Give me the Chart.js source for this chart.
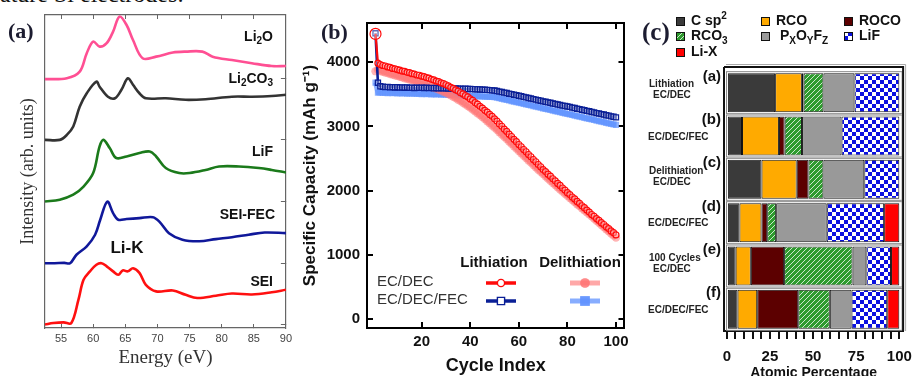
<!DOCTYPE html>
<html><head><meta charset="utf-8">
<script src="https://cdn.jsdelivr.net/npm/chart.js@4.4.1/dist/chart.umd.min.js"></script>
<style>
html,body{margin:0;padding:0;background:#fff;width:921px;height:376px;overflow:hidden;position:relative;font-family:"Liberation Sans",Arial,sans-serif;}
canvas{position:absolute;top:0;}
#ca{left:0;} #cb{left:300px;} #cc{left:640px;}
.pl{position:absolute;font-family:"Liberation Serif","Times New Roman",serif;font-weight:bold;color:#1c1c30;white-space:nowrap;}
#cut{position:absolute;left:0;top:-18px;font-family:"Liberation Serif",serif;font-size:24px;line-height:24px;white-space:nowrap;color:#111;}
</style></head><body>
<div id="cut">ature Si electrodes:</div>
<canvas id="ca" width="300" height="376"></canvas>
<canvas id="cb" width="340" height="376"></canvas>
<canvas id="cc" width="281" height="376"></canvas>
<div class="pl" style="left:8px;top:18px;font-size:22px;">(a)</div>
<div class="pl" style="left:321px;top:19px;font-size:22px;">(b)</div>
<div class="pl" style="left:642px;top:18px;font-size:25px;">(c)</div>
<script>
// ---------------- Panel (a): Li-K edge spectra ----------------
const spectraNames = ['Li_2O', 'Li_2CO_3', 'LiF', 'SEI-FEC', 'SEI'];
const li2oEnergy = [52.5,55.9,57.9,59,60,61,62.1,63.1,64.1,65.2,66.2,67.7,69.8,72.4,74.4,77,78.6,81.6,84.7,87.8,90];
const li2oIntensity = [7.95,7.98,8.19,8.78,9.15,8.99,9.10,9.47,9.95,9.68,9.20,8.62,8.67,8.80,8.83,8.83,8.67,8.56,8.46,8.37,8.37];
const li2co3Energy = [52.5,54.8,55.9,56.9,57.9,59,60.5,61,62.3,63.4,64.4,65.4,66.2,67.2,68.2,71.3,74.4,77.5,81.6,84.7,87.8,90];
const li2co3Intensity = [6.01,6.01,6.17,6.44,7.07,7.50,7.87,7.71,7.39,7.34,7.61,7.98,7.77,7.50,7.34,7.34,7.29,7.31,7.39,7.39,7.41,7.45];
const lifEnergy = [52.5,54.8,56.9,58.5,60,61,61.6,62.6,63.6,65.2,67.2,68.8,69.8,71.3,73.4,75,77.5,79.6,82.7,85.8,87.8,90];
const lifIntensity = [4.04,4.10,4.26,4.52,4.95,5.80,6.01,5.74,5.43,5.48,5.59,5.64,5.48,5.11,4.95,4.95,5.05,5.16,5.16,5.11,5.05,4.97];
const seiFecEnergy = [52.5,54,55.5,56.4,57.4,59,60.3,61.1,62.2,63.1,63.9,65.2,67.2,69.3,70.3,71.8,73.9,76.5,79.1,81.6,84.2,86.7,90];
const seiFecIntensity = [2.07,2.07,2.08,2.07,2.34,2.61,2.98,3.46,4.04,3.67,3.46,3.48,3.51,3.54,3.40,3.03,2.82,2.77,2.84,2.90,2.98,3.05,3.03];
const seiEnergy = [52.5,53.8,55.4,56.6,57.7,58.5,59.5,60.5,61.3,62.1,63.1,63.9,64.6,65.4,66.2,67.2,68.2,69.8,72.4,74.4,76.2,79.1,81.6,84.7,87.8,90];
const seiIntensity = [0.11,0.16,0.18,0.16,0.9,1.54,1.81,2.02,2.07,1.97,1.81,1.70,1.84,1.81,1.91,1.76,1.38,1.17,1.20,1.06,0.96,1.03,1.10,1.07,1.14,1.22];
const energyTicks = [55,60,65,70,75,80,85,90];
const baselineTicks = [0.11,2.07,4.04,6.01,7.98];
const edgeLabel = 'Li-K';

// ---------------- Panel (b): cycling ----------------
const cycleCount = 100;
const capTicks = [0,1000,2000,3000,4000];
const cycleTicks = [20,40,60,80,100];
const bSeriesNames = ['EC/DEC Lithiation','EC/DEC/FEC Lithiation','EC/DEC Delithiation','EC/DEC/FEC Delithiation'];
const bLegendCols = ['Lithiation','Delithiation'];
const bLegendRows = ['EC/DEC','EC/DEC/FEC'];
const ecLith = [4440,3985,3962,3948,3940,3926,3918,3903,3897,3884,
3876,3861,3857,3842,3836,3821,3815,3800,3796,3782,
3774,3758,3750,3733,3724,3706,3696,3678,3667,3648,
3632,3608,3592,3568,3550,3524,3505,3478,3458,3428,
3404,3371,3346,3312,3285,3250,3222,3186,3157,3118,
3082,3038,3002,2958,2922,2878,2842,2798,2762,2718,
2683,2640,2605,2562,2527,2484,2449,2406,2371,2328,
2296,2256,2224,2184,2152,2112,2080,2040,2008,1968,
1938,1900,1870,1832,1802,1764,1734,1696,1666,1628,
1600,1564,1536,1500,1472,1436,1408,1372,1344,1310];
const ecDelith = [3860,3880,3862,3850,3838,3830,3815,3808,3794,3786,
3772,3764,3750,3742,3728,3720,3705,3697,3682,3673,
3660,3648,3632,3620,3603,3590,3572,3558,3538,3522,
3502,3484,3460,3440,3416,3394,3368,3345,3318,3292,
3264,3236,3205,3176,3144,3114,3080,3050,3014,2982,
2946,2910,2874,2838,2802,2764,2728,2690,2654,2616,
2580,2542,2508,2470,2436,2398,2364,2326,2292,2256,
2222,2186,2154,2118,2086,2050,2018,1984,1952,1918,
1886,1852,1822,1788,1758,1724,1694,1662,1632,1600,
1566,1530,1500,1464,1434,1398,1368,1332,1302,1268];
const fecLith = [4450,3680,3625,3618,3612,3615,3608,3612,3606,3610,
3604,3608,3602,3606,3600,3604,3598,3602,3600,3604,
3598,3602,3596,3600,3594,3598,3592,3596,3592,3594,
3590,3592,3588,3590,3586,3588,3584,3586,3582,3584,
3580,3579,3577,3575,3573,3570,3568,3565,3561,3558,
3551,3541,3535,3525,3519,3509,3503,3493,3486,3476,
3469,3459,3452,3441,3435,3424,3417,3407,3400,3390,
3383,3373,3367,3356,3350,3340,3334,3324,3318,3310,
3303,3292,3286,3275,3269,3258,3252,3241,3235,3225,
3218,3207,3201,3190,3184,3173,3167,3156,3150,3140];
const fecDelith = [3680,3525,3528,3522,3526,3518,3524,3516,3520,3514,
3518,3512,3516,3510,3514,3508,3512,3506,3510,3504,
3508,3502,3506,3500,3504,3498,3502,3496,3500,3494,
3496,3490,3492,3486,3488,3482,3484,3478,3478,3474,
3474,3470,3470,3466,3466,3462,3462,3458,3458,3455,
3446,3438,3429,3420,3412,3403,3394,3386,3377,3368,
3360,3351,3342,3334,3325,3316,3308,3299,3290,3282,
3273,3264,3256,3247,3238,3230,3221,3212,3204,3195,
3186,3178,3169,3160,3152,3143,3134,3126,3117,3108,
3100,3091,3082,3074,3065,3056,3048,3039,3030,3022];

// ---------------- Panel (c): XPS composition ----------------
const rowLetters = ['(a)','(b)','(c)','(d)','(e)','(f)'];
const rowNotes = [['Lithiation','EC/DEC'],['EC/DEC/FEC'],['Delithiation','EC/DEC'],['EC/DEC/FEC'],['100 Cycles','EC/DEC'],['EC/DEC/FEC']];
const speciesNames = ['C sp^2','RCO','ROCO','RCO_3',' P_XO_YF_Z','LiF','Li-X'];
const cSp2 = [28, 8.8, 20.1, 7.3, 5.1, 6.2];
const rco = [15.5, 21.4, 20.4, 12.8, 8.8, 11.4];
const roco = [1, 3.3, 6.8, 3.3, 19.3, 23.8];
const rco3 = [11.5, 10.1, 8.7, 5.2, 39.7, 18.3];
const pxoyfz = [18, 22.9, 23.7, 29.3, 8, 12.6];
const lif = [26, 33.5, 20.3, 33.3, 14.3, 20.7];
const liX = [0, 0, 0, 8.8, 4.8, 7];
const pctTicks = [0,5,10,15,20,25,30,35,40,45,50,55,60,65,70,75,80,85,90,95,100];

// ---------------- helpers ----------------
Chart.defaults.font.family = '"Liberation Sans", Arial, sans-serif';
Chart.defaults.animation = false;
const SANS = '"Liberation Sans", Arial, sans-serif';
const SERIF = '"Liberation Serif", "Times New Roman", serif';

function parseRich(s){
  const out=[]; let buf=''; let i=0;
  while(i<s.length){
    const ch=s[i];
    if((ch==='_'||ch==='^') && i+1<s.length){
      if(buf){out.push([buf,0]);buf='';}
      out.push([s[i+1], ch==='_'?1:2]); i+=2;
    } else {buf+=ch;i++;}
  }
  if(buf) out.push([buf,0]);
  return out;
}
function drawRich(ctx, s, x, y, size, weight, align, color){
  const segs=parseRich(s);
  const f=m=>`${weight} ${m?Math.round(size*0.68):size}px ${SANS}`;
  let w=0; segs.forEach(([t,m])=>{ctx.font=f(m); w+=ctx.measureText(t).width;});
  let cx = align==='right'? x-w : align==='center'? x-w/2 : x;
  ctx.save(); ctx.fillStyle=color; ctx.textBaseline='middle'; ctx.textAlign='left';
  segs.forEach(([t,m])=>{ctx.font=f(m); const dy = m===1? size*0.32 : m===2? -size*0.38 : 0; ctx.fillText(t,cx,y+dy); cx+=ctx.measureText(t).width;});
  ctx.restore();
  return w;
}
function setTicks(arr){ return s=>{ s.ticks = arr.map(v=>({value:v})); }; }

// ---------------- Chart (a) ----------------
const spectraE = [li2oEnergy, li2co3Energy, lifEnergy, seiFecEnergy, seiEnergy];
const spectraI = [li2oIntensity, li2co3Intensity, lifIntensity, seiFecIntensity, seiIntensity];
const spectraColors = ['#ff4f93','#333333','#1b7a1b','#10189a','#ff1010'];
const spectraLabelPos = [[273,37],[273,79],[273,152],[275,215],[273,282]];

new Chart(document.getElementById('ca'), {
  type:'line',
  data:{datasets: spectraNames.map((n,k)=>({
    label:n, data: spectraE[k].map((e,i)=>({x:e,y:spectraI[k][i]})),
    borderColor:spectraColors[k], borderWidth:2.6, pointRadius:0, tension:0.35, fill:false
  }))},
  options:{
    responsive:false, devicePixelRatio:1, animation:false,
    layout:{padding:{left:0,right:12,top:15,bottom:0}},
    plugins:{legend:{display:false}, tooltip:{enabled:false}},
    scales:{
      x:{type:'linear', position:'bottom', min:52.5, max:90, afterBuildTicks:setTicks(energyTicks),
        ticks:{font:{size:11}, color:'#444', padding:8, autoSkip:false, maxRotation:0, callback:v=>String(v)},
        grid:{drawOnChartArea:false, tickLength:-4, color:'#666'},
        border:{display:true, color:'#666', width:1.2},
        title:{display:true, text:'Energy (eV)', color:'#333', font:{family:SERIF,size:19}, padding:{top:0,bottom:7}},
        afterFit:s=>{s.height=48;}},
      x2:{type:'linear', position:'top', min:52.5, max:90, afterBuildTicks:setTicks(energyTicks),
        ticks:{display:false}, grid:{drawOnChartArea:false, tickLength:-4, color:'#666'},
        border:{display:true, color:'#666', width:1.2}, afterFit:s=>{s.height=0;}},
      y:{min:0, max:10, ticks:{display:false}, grid:{display:false},
        border:{display:true, color:'#666', width:1.2},
        title:{display:true, text:'Intensity (arb. units)', color:'#333', font:{family:SERIF,size:18}, padding:{top:17,bottom:0}},
        afterFit:s=>{s.width=45;}},
      y2:{position:'right', min:0, max:10, afterBuildTicks:setTicks(baselineTicks),
        ticks:{display:false}, grid:{drawOnChartArea:false, tickLength:-5, color:'#666'},
        border:{display:true, color:'#666', width:1.2}, afterFit:s=>{s.width=0;}}
    }
  },
  plugins:[{id:'specLabels', afterDraw(chart){
    const ctx=chart.ctx;
    spectraNames.forEach((n,k)=>drawRich(ctx,n,spectraLabelPos[k][0],spectraLabelPos[k][1],14,'bold','right','#111'));
    drawRich(ctx, edgeLabel, 127, 248, 17, 'bold', 'center', '#111');
  }}]
});

// ---------------- Chart (b) ----------------
const cycles = Array.from({length:cycleCount},(_,i)=>i+1);
const toXY = arr => arr.map((v,i)=>({x:cycles[i], y:v}));
const bStyles = [
  {c:'#ff0a0a', bw:2.2, ps:'circle', r:3, fill:'rgba(255,255,255,0.35)', pb:1.2, first:5.5},
  {c:'#0a1f96', bw:2.6, ps:'rect', r:3.6, fill:'rgba(255,255,255,0.3)', pb:1.3, first:3.6},
  {c:'rgba(255,110,110,0.6)', bw:5, ps:'circle', r:4.2, fill:'rgba(255,120,120,0.55)', pb:0, first:4.2},
  {c:'rgba(95,145,255,0.75)', bw:5, ps:'rect', r:4.4, fill:'rgba(100,150,255,0.7)', pb:0, first:4.4}
];
const bData = [ecLith, fecLith, ecDelith, fecDelith];
const bAxisCommon = {grid:{drawOnChartArea:false, tickLength:-6, color:'#000', lineWidth:2}, border:{display:true,color:'#000',width:2}};

new Chart(document.getElementById('cb'), {
  type:'line',
  data:{datasets: bSeriesNames.map((n,k)=>({
    label:n, data:toXY(bData[k]), borderColor:bStyles[k].c, borderWidth:bStyles[k].bw,
    pointStyle:bStyles[k].ps, pointRadius:c=>c.dataIndex===0?bStyles[k].first:bStyles[k].r,
    pointBackgroundColor:bStyles[k].fill, pointBorderColor:bStyles[k].c, pointBorderWidth:bStyles[k].pb,
    tension:0, fill:false
  }))},
  options:{
    responsive:false, devicePixelRatio:1, animation:false,
    layout:{padding:{left:0,right:8,top:23,bottom:0}},
    plugins:{legend:{display:false}, tooltip:{enabled:false}},
    scales:{
      x:{type:'linear', position:'bottom', min:-2.5, max:103.5, afterBuildTicks:setTicks(cycleTicks),
        ticks:{font:{size:15,weight:'bold'}, color:'#111', padding:11, autoSkip:false, maxRotation:0, callback:v=>String(v)},
        ...bAxisCommon,
        title:{display:true, text:'Cycle Index', color:'#111', font:{size:18,weight:'bold'}, padding:{top:0,bottom:-1}},
        afterFit:s=>{s.height=48;}},
      x2:{type:'linear', position:'top', min:-2.5, max:103.5, afterBuildTicks:setTicks(cycleTicks),
        ticks:{display:false}, ...bAxisCommon, afterFit:s=>{s.height=0;}},
      y:{type:'linear', min:-140, max:4610, afterBuildTicks:setTicks(capTicks),
        ticks:{font:{size:15,weight:'bold'}, color:'#111', padding:13, callback:v=>String(v)},
        ...bAxisCommon,
        title:{display:true, text:'Specific Capacity (mAh g\u207B\u00B9)', color:'#111', font:{size:17,weight:'bold'}, padding:{top:0,bottom:0}},
        afterFit:s=>{s.width=67;}},
      y2:{type:'linear', position:'right', min:-140, max:4610, afterBuildTicks:setTicks(capTicks),
        ticks:{display:false}, ...bAxisCommon, afterFit:s=>{s.width=0;}}
    }
  },
  plugins:[{id:'bLegend', afterDraw(chart){
    const ctx=chart.ctx;
    ctx.save();
    ctx.fillStyle='#111'; ctx.font=`bold 15px ${SANS}`; ctx.textBaseline='middle'; ctx.textAlign='center';
    ctx.fillText(bLegendCols[0], 194, 263);
    ctx.fillText(bLegendCols[1], 280, 263);
    ctx.font=`15px ${SANS}`; ctx.fillStyle='#333'; ctx.textAlign='left';
    ctx.fillText(bLegendRows[0], 77, 282);
    ctx.fillText(bLegendRows[1], 77, 300);
    const samples = [[0,201,283],[2,285,283],[1,201,301],[3,285,301]];
    samples.forEach(([k,cx,cy])=>{
      const st=bStyles[k];
      ctx.strokeStyle=st.c; ctx.lineWidth=Math.max(st.bw,3.5);
      ctx.beginPath(); ctx.moveTo(cx-15,cy); ctx.lineTo(cx+15,cy); ctx.stroke();
      ctx.fillStyle = k<2 ? '#fff' : st.fill; ctx.strokeStyle=st.c; ctx.lineWidth = k<2?1.4:0;
      const r = k<2 ? 3.6 : 4.8;
      ctx.beginPath();
      if(st.ps==='circle') ctx.arc(cx,cy,r,0,Math.PI*2); else ctx.rect(cx-r,cy-r,2*r,2*r);
      ctx.fill(); if(k<2) ctx.stroke();
      if(k>=2){ ctx.fillStyle=st.c; ctx.fill(); }
    });
    ctx.restore();
  }}]
});

// ---------------- Chart (c) ----------------
function makeHatch(){
  const c=document.createElement('canvas'); c.width=5; c.height=5;
  const g=c.getContext('2d'); g.fillStyle='#2e9b2e'; g.fillRect(0,0,5,5);
  g.strokeStyle='rgba(255,255,255,0.85)'; g.lineWidth=0.9;
  g.beginPath(); g.moveTo(0,5); g.lineTo(5,0); g.moveTo(-1,1); g.lineTo(1,-1); g.moveTo(4,6); g.lineTo(6,4); g.stroke();
  return g.createPattern(c,'repeat');
}
function makeChecker(){
  const c=document.createElement('canvas'); c.width=8; c.height=8;
  const g=c.getContext('2d'); g.fillStyle='#ffffff'; g.fillRect(0,0,8,8);
  g.fillStyle='#0a10e0'; g.fillRect(0,0,4,4); g.fillRect(4,4,4,4);
  return g.createPattern(c,'repeat');
}
const speciesData = [cSp2, rco, roco, rco3, pxoyfz, lif, liX];
const speciesFill = ['#3a3a3a','#ffaa00','#5c0000',makeHatch(),'#999999',makeChecker(),'#ff0000'];

new Chart(document.getElementById('cc'), {
  type:'bar',
  data:{labels:rowLetters, datasets: speciesNames.map((n,k)=>({
    label:n, data:speciesData[k], backgroundColor:speciesFill[k], borderColor:'#111', borderWidth:1,
    borderSkipped:false, barPercentage:0.9, categoryPercentage:1.0
  }))},
  options:{
    indexAxis:'y', responsive:false, devicePixelRatio:1, animation:false,
    layout:{padding:{left:0,right:8,top:71,bottom:0}},
    plugins:{legend:{display:false}, tooltip:{enabled:false}},
    scales:{
      x:{type:'linear', stacked:true, min:-1.65, max:102.2, afterBuildTicks:setTicks(pctTicks),
        ticks:{font:{size:15,weight:'bold'}, color:'#111', padding:9, autoSkip:false, maxRotation:0,
          callback:v=> v%25===0 ? String(v) : ''},
        grid:{drawOnChartArea:false, tickLength:8, color:'#111', lineWidth:2},
        border:{display:true,color:'#111',width:2},
        title:{display:true, text:'Atomic Percentage', color:'#111', font:{size:14,weight:'bold'}, padding:{top:0,bottom:-6}},
        afterFit:s=>{s.height=45;}},
      y:{stacked:true, ticks:{display:false}, grid:{display:false},
        border:{display:true,color:'#111',width:2}, afterFit:s=>{s.width=84;}}
    }
  },
  plugins:[{id:'cDecor',
    beforeDatasetsDraw(chart){
      const ctx=chart.ctx, a=chart.chartArea, ys=chart.scales.y;
      ctx.save(); ctx.strokeStyle='#8a8a8a'; ctx.lineWidth=1;
      rowLetters.forEach((_,i)=>{ const c=ys.getPixelForValue(i); ctx.strokeRect(a.left+2.5, c-21, a.right-a.left-3.5, 42); });
      ctx.restore();
    },
    afterDraw(chart){
      const ctx=chart.ctx, a=chart.chartArea, ys=chart.scales.y;
      ctx.save();
      ctx.strokeStyle='#111'; ctx.lineWidth=2;
      ctx.beginPath(); ctx.moveTo(a.left, a.top-4); ctx.lineTo(a.right, a.top-4); ctx.lineTo(a.right, a.bottom); ctx.moveTo(a.left,a.top-4); ctx.lineTo(a.left,a.bottom); ctx.stroke();
      ctx.strokeStyle='#aaa'; ctx.lineWidth=1;
      ctx.beginPath(); ctx.moveTo(a.left+2, a.top-6.5); ctx.lineTo(a.right+2.5, a.top-6.5); ctx.lineTo(a.right+2.5, a.bottom); ctx.stroke();
      rowLetters.forEach((L,i)=>{
        const c=ys.getPixelForValue(i);
        drawRich(ctx, L, a.left-3, c-16, 15, 'bold', 'right', '#111');
        const notes=rowNotes[i];
        if(notes.length===1){ drawRich(ctx, notes[0], 8, c+1, 10, 'bold', 'left', '#222'); }
        else { drawRich(ctx, notes[0], 9, c-8, 10, 'bold', 'left', '#222'); drawRich(ctx, notes[1], 13, c+3, 10, 'bold', 'left', '#222'); }
      });
      const colX=[36,121,204], rowY=[21.5,36.5,52.5];
      chart.data.datasets.forEach((d,k)=>{
        const bx=colX[k%3], by=rowY[Math.floor(k/3)];
        ctx.fillStyle=d.backgroundColor; ctx.fillRect(bx,by-4.5,9,9);
        ctx.strokeStyle='#111'; ctx.lineWidth=1; ctx.strokeRect(bx+0.5,by-4,8,8);
        drawRich(ctx, d.label, bx+15, by, 14, 'bold', 'left', '#111');
      });
      ctx.restore();
    }
  }]
});
</script>
</body></html>
